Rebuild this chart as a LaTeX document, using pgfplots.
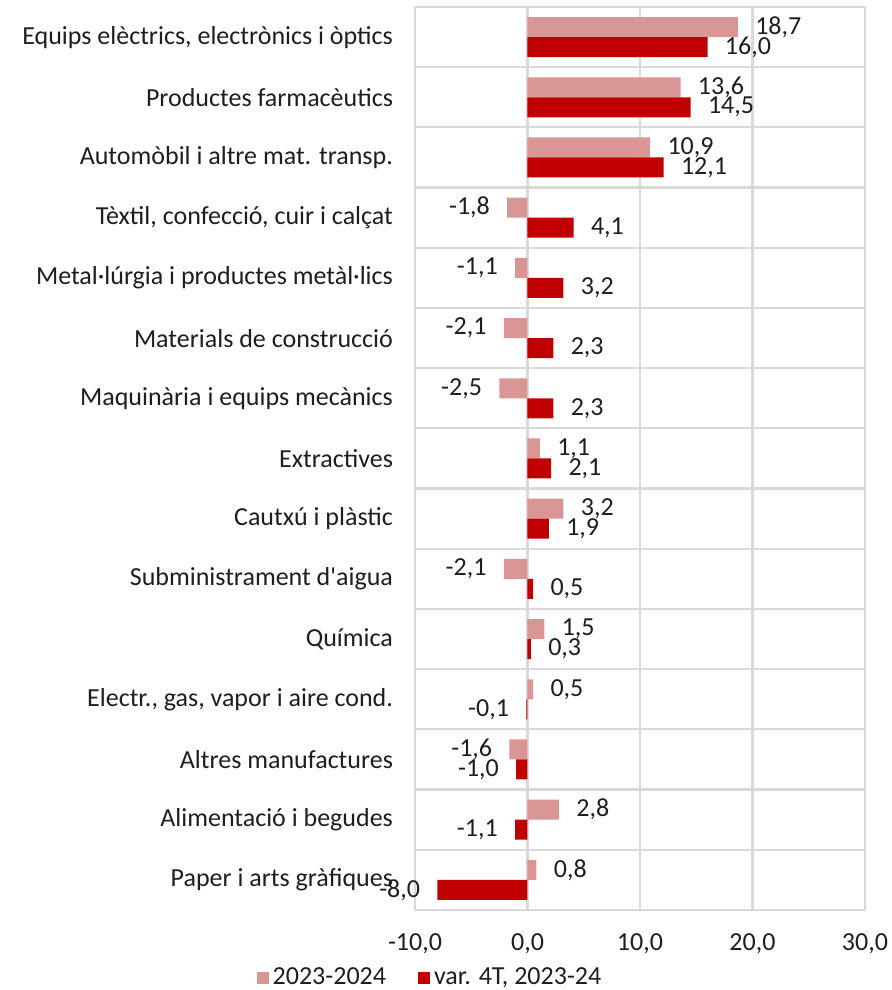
\documentclass[border=0pt]{standalone}
\usepackage{pgfplots}
\pgfplotsset{compat=1.18}
\usepackage{pgfplotstable}
\usepackage{fontspec}
\setmainfont{Carlito}
\definecolor{pinkbar}{RGB}{217,150,148}
\definecolor{redbar}{RGB}{192,0,0}
\definecolor{gridc}{RGB}{217,217,217}
\definecolor{txt}{RGB}{30,30,30}
\pgfplotstableread{
y a b
14 18.7 16.0
13 13.6 14.5
12 10.9 12.1
11 -1.8 4.1
10 -1.1 3.2
9 -2.1 2.3
8 -2.5 2.3
7 1.1 2.1
6 3.2 1.9
5 -2.1 0.5
4 1.5 0.3
3 0.5 -0.1
2 -1.6 -1.0
1 2.8 -1.1
0 0.8 -8.0
}\datatab
\pgfkeys{/pgf/number format/.cd, fixed, fixed zerofill, precision=1, use comma, assume math mode=true}
\begin{document}
\begin{tikzpicture}
\path[use as bounding box] (-207.5pt,-40pt) rectangle (238pt,455pt);
\begin{axis}[
  scale only axis,
  width=225pt, height=451.5pt,
  xbar,
  xmin=-10, xmax=30,
  ymin=-0.5, ymax=14.5,
  xtick={-10,0,10,20,30},
  ytick={0,...,14},
  yticklabels={Paper i arts gràfiques, Alimentació i begudes, Altres manufactures, {Electr., gas, vapor i aire cond.}, Química, Subministrament d\textquotesingle aigua, Cautxú i plàstic, Extractives, Maquinària i equips mecànics, Materials de construcció, Metal·lúrgia i productes metàl·lics, {Tèxtil, confecció, cuir i calçat}, Automòbil i altre mat. transp., Productes farmacèutics, {Equips elèctrics, electrònics i òptics}},
  minor ytick={0.5,1.5,...,13.5},
  xmajorgrids, yminorgrids,
  grid style={draw=gridc, line width=1.1pt},
  minor grid style={draw=gridc, line width=1.1pt},
  axis line style={draw=gridc, line width=1.1pt},
  major tick length=0pt, minor tick length=0pt,
  tick style={draw=none},
  ticklabel style={font=\fontsize{13}{15}\selectfont, text=txt},
  xticklabel style={yshift=-8.5pt},
  yticklabel style={xshift=-7.5pt},
  bar width=10pt,
  nodes near coords,
  nodes near coords align={horizontal},
  every node near coord/.append style={font=\fontsize{13}{15}\selectfont, text=txt, inner xsep=8.5pt},
  legend style={at={(axis description cs:0.0356,-0.0753)}, anchor=center, draw=none, legend columns=2, font=\fontsize{13}{15}\selectfont, text=txt, /tikz/every even column/.append style={column sep=14pt}},
  legend image code/.code={\fill[#1] (0pt,-3pt) rectangle (6pt,3pt);},
]
\addplot[fill=pinkbar, draw=none, bar shift=5pt] table[x=a, y=y] {\datatab};
\addplot[fill=redbar, draw=none, bar shift=-5pt] table[x=b, y=y] {\datatab};
\legend{2023-2024, {var. 4T, 2023-24}}
\end{axis}
\end{tikzpicture}
\end{document}
